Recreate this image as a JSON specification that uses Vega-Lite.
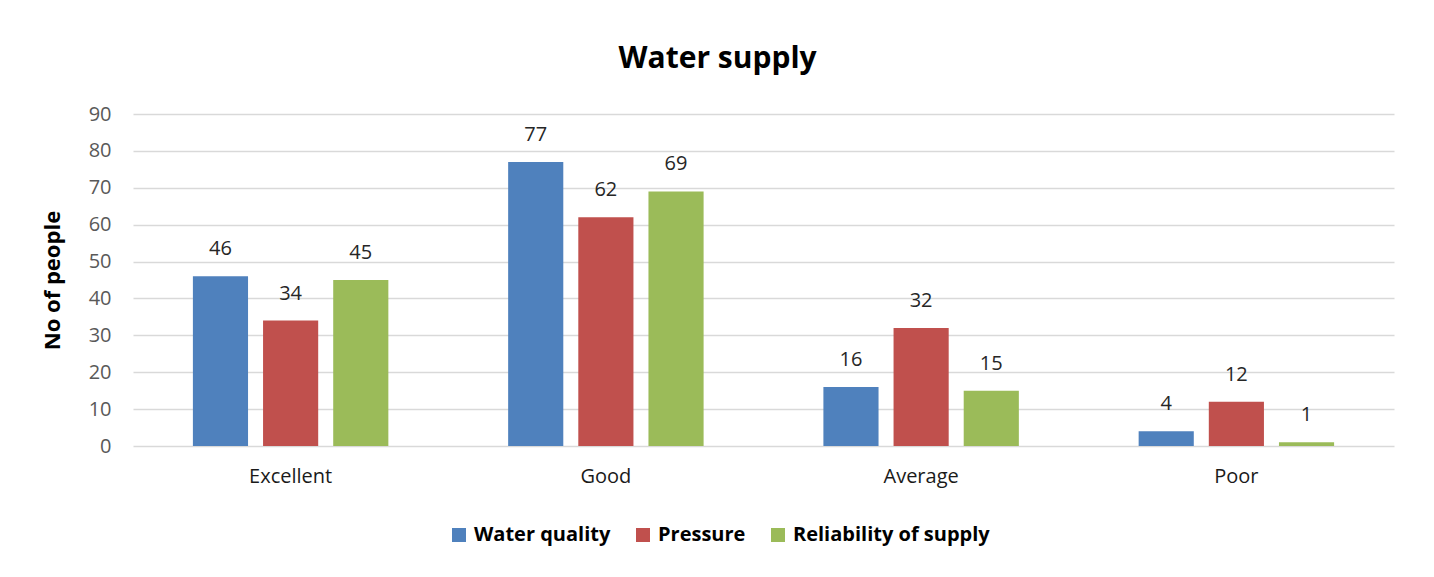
{
  "$schema": "https://vega.github.io/schema/vega-lite/v6.json",
  "width": 1261,
  "height": 332,
  "autosize": {"type": "none"},
  "padding": {"left": 133, "top": 114, "right": 40, "bottom": 131},
  "background": "white",
  "title": {
    "text": "Water supply",
    "frame": "bounds",
    "anchor": "middle",
    "font": "Open Sans",
    "fontSize": 30,
    "fontWeight": "bold",
    "color": "#000000",
    "offset": 30
  },
  "data": {
    "values": [
      {"rating": "Excellent", "series": "Water quality", "value": 46},
      {"rating": "Excellent", "series": "Pressure", "value": 34},
      {"rating": "Excellent", "series": "Reliability of supply", "value": 45},
      {"rating": "Good", "series": "Water quality", "value": 77},
      {"rating": "Good", "series": "Pressure", "value": 62},
      {"rating": "Good", "series": "Reliability of supply", "value": 69},
      {"rating": "Average", "series": "Water quality", "value": 16},
      {"rating": "Average", "series": "Pressure", "value": 32},
      {"rating": "Average", "series": "Reliability of supply", "value": 15},
      {"rating": "Poor", "series": "Water quality", "value": 4},
      {"rating": "Poor", "series": "Pressure", "value": 12},
      {"rating": "Poor", "series": "Reliability of supply", "value": 1}
    ]
  },
  "encoding": {
    "x": {
      "field": "rating",
      "type": "nominal",
      "sort": ["Excellent", "Good", "Average", "Poor"],
      "scale": {"paddingInner": 0.38, "paddingOuter": 0.19},
      "axis": {
        "title": null,
        "labelAngle": 0,
        "labelFont": "Open Sans",
        "labelFontSize": 20,
        "labelColor": "#1a1a1a",
        "labelPadding": 20,
        "ticks": false,
        "domain": false
      }
    },
    "xOffset": {
      "field": "series",
      "type": "nominal",
      "sort": ["Water quality", "Pressure", "Reliability of supply"],
      "scale": {"paddingInner": 0.214, "paddingOuter": 0}
    },
    "y": {
      "field": "value",
      "type": "quantitative",
      "scale": {"domain": [0, 90], "nice": false},
      "axis": {
        "title": "No of people",
        "titleFont": "Open Sans",
        "titleFontSize": 22,
        "titleFontWeight": "bold",
        "titleColor": "#000000",
        "titlePadding": 24,
        "values": [0, 10, 20, 30, 40, 50, 60, 70, 80, 90],
        "labelFont": "Open Sans",
        "labelFontSize": 20,
        "labelColor": "#595959",
        "labelPadding": 22,
        "ticks": false,
        "domain": false,
        "grid": true,
        "gridColor": "#D9D9D9",
        "gridWidth": 1.5
      }
    },
    "color": {
      "field": "series",
      "type": "nominal",
      "scale": {
        "domain": ["Water quality", "Pressure", "Reliability of supply"],
        "range": ["#4F81BD", "#C0504D", "#9BBB59"]
      },
      "legend": {
        "title": null,
        "orient": "none",
        "direction": "horizontal",
        "legendX": 316,
        "legendY": 411,
        "symbolType": "square",
        "symbolSize": 196,
        "symbolStrokeWidth": 0,
        "symbolOpacity": 1,
        "labelFont": "Open Sans",
        "labelFontSize": 20,
        "labelFontWeight": "bold",
        "labelColor": "#000000",
        "labelLimit": 400,
        "labelOffset": 5,
        "columnPadding": 22
      }
    }
  },
  "layer": [
    {"mark": {"type": "bar"}},
    {
      "mark": {
        "type": "text",
        "baseline": "alphabetic",
        "dy": -21,
        "font": "Open Sans",
        "fontSize": 20,
        "color": "#262626"
      },
      "encoding": {
        "text": {"field": "value", "type": "quantitative"},
        "color": {"value": "#262626"}
      }
    }
  ],
  "config": {
    "view": {"stroke": null}
  }
}
